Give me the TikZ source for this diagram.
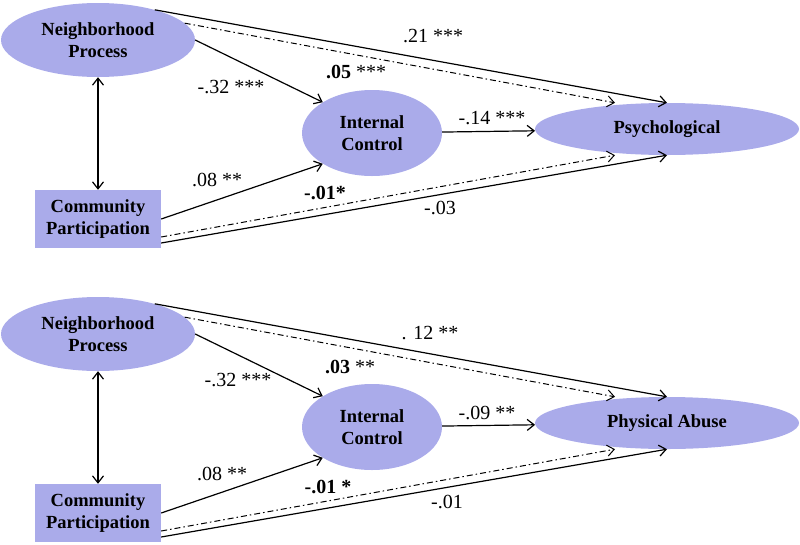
\documentclass[tikz,border=0pt]{standalone}
\usepackage{fontspec}
\setmainfont{Liberation Serif}
\usetikzlibrary{shapes.geometric,arrows.meta}
\definecolor{latent}{RGB}{170,171,234}

\begin{document}
\begin{tikzpicture}[x=1pt,y=-1pt,
  >={Straight Barb[length=7pt,width=11pt]},
  latentvar/.style={ellipse, fill=latent, inner sep=0pt, align=center,
    font=\fontsize{18.5}{22}\selectfont\bfseries},
  observed/.style={rectangle, fill=latent, inner sep=0pt, align=center,
    minimum width=126pt, minimum height=58pt,
    font=\fontsize{18.5}{22}\selectfont\bfseries},
  effect/.style={->, line width=1.2pt},
  indirect/.style={->, line width=1pt, dash pattern=on 6pt off 3pt on 1.5pt off 3pt},
  coef/.style={inner sep=0pt, font=\fontsize{20}{24}\selectfont}]
\useasboundingbox (0,0) rectangle (800,544);

\node[latentvar, minimum width=194pt, minimum height=74pt] (np1) at (98,40) {Neighborhood\\Process};
\node[observed] (cp1) at (98,219) {Community\\Participation};
\node[latentvar, minimum width=140pt, minimum height=86pt] (ic1) at (372,133) {Internal\\Control};
\node[latentvar, minimum width=264pt, minimum height=52pt] (psy) at (667,129) {Psychological};

\draw[<->, line width=1.2pt] (np1) -- (cp1);
\draw[effect] (np1.east) -- (ic1.148);
\draw[effect] (cp1.east) -- (ic1.212);
\draw[effect] (ic1) -- (psy);
\draw[effect] (np1.28) -- (psy.north);
\draw[indirect] (np1.11) -- ([xshift=-52pt]psy.north);
\draw[indirect] ([yshift=-18pt]cp1.east) -- ([xshift=-52pt]psy.south);
\draw[effect] ([yshift=-24pt]cp1.east) -- (psy.south);

\node[coef] (w1) at (433,36) {.21 ***};
\node[coef] (w2) at (231,87) {-.32 ***};
\node[coef] (w3) at (356,72) {\textbf{.05} ***};
\node[coef] (w4) at (492,118) {-.14 ***};
\node[coef] (w5) at (217,180) {.08 **};
\node[coef] (w6) at (325,193) {\textbf{-.01*}};
\node[coef] (w7) at (440,208) {-.03};

\node[latentvar, minimum width=194pt, minimum height=74pt] (np2) at (98,334) {Neighborhood\\Process};
\node[observed] (cp2) at (98,513) {Community\\Participation};
\node[latentvar, minimum width=140pt, minimum height=86pt] (ic2) at (372,427) {Internal\\Control};
\node[latentvar, minimum width=264pt, minimum height=52pt] (pa) at (667,423) {Physical Abuse};

\draw[<->, line width=1.2pt] (np2) -- (cp2);
\draw[effect] (np2.east) -- (ic2.148);
\draw[effect] (cp2.east) -- (ic2.212);
\draw[effect] (ic2) -- (pa);
\draw[effect] (np2.28) -- (pa.north);
\draw[indirect] (np2.11) -- ([xshift=-52pt]pa.north);
\draw[indirect] ([yshift=-18pt]cp2.east) -- ([xshift=-52pt]pa.south);
\draw[effect] ([yshift=-24pt]cp2.east) -- (pa.south);

\node[coef] (v1) at (430,333) {. 12 **};
\node[coef] (v2) at (238,380) {-.32 ***};
\node[coef] (v3) at (350,367) {\textbf{.03} **};
\node[coef] (v4) at (487,413) {-.09 **};
\node[coef] (v5) at (222,474) {.08 **};
\node[coef] (v6) at (328,487) {\textbf{-.01 *}};
\node[coef] (v7) at (447,502) {-.01};
\end{tikzpicture}
\end{document}
